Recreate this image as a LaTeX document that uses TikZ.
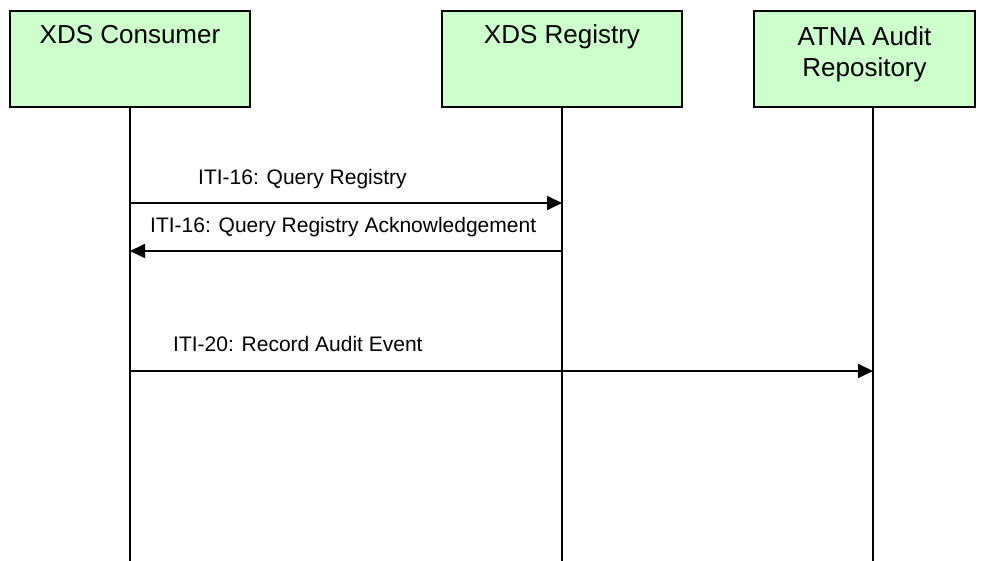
\documentclass[tikz,border=0pt]{standalone}
\usepackage{fontspec}
\setmainfont{Liberation Sans}
\usetikzlibrary{arrows.meta,positioning,calc}

\definecolor{actorgreen}{RGB}{204,255,204}

\begin{document}
\begin{tikzpicture}[x=1pt, y=-1pt,
  actor/.style={draw, line width=2pt, fill=actorgreen, minimum width=240pt, minimum height=96pt, inner sep=0pt},
  actortext/.style={font=\fontsize{26}{31}\selectfont, align=center, inner sep=0pt},
  msg/.style={line width=1.8pt, -{Triangle[length=15pt,width=14pt]}},
  msglabel/.style={font=\fontsize{21}{25}\selectfont, inner sep=0pt, anchor=base west},
  lifeline/.style={line width=1.8pt}]
\useasboundingbox (0,0) rectangle (982,561);

% Teilnehmer
\node[actor, label={[actortext, anchor=base, yshift=-33.5pt]north:XDS Consumer}] (cons) at (130,59) {};
\node[actor, label={[actortext, anchor=base, yshift=-33.5pt]north:XDS Registry}] (reg) at (562,59) {};
\node[actor, minimum width=221pt, label={[actortext, anchor=north, yshift=-16pt]north:{ATNA Audit\\Repository}}] (atna) at (864.5,59) {};
\coordinate (atnaline) at ([xshift=8.5pt]atna.south);

% Lebenslinien
\coordinate (bottom) at (0,561);
\draw[lifeline] (cons.south) -- (cons.south |- bottom);
\draw[lifeline] (reg.south) -- (reg.south |- bottom);
\draw[lifeline] (atnaline) -- (atnaline |- bottom);

% Nachrichten
\coordinate (m1) at (0,203);
\coordinate (m2) at (0,251);
\coordinate (m3) at (0,371);
\draw[msg] (cons.south |- m1) -- (reg.south |- m1);
\draw[msg] (reg.south |- m2) -- (cons.south |- m2);
\draw[msg] (cons.south |- m3) -- (atnaline |- m3);

% Beschriftungen
\node[msglabel] (l1) at (198,185) {ITI-16: Query Registry};
\node[msglabel] (l2) at (150,233) {ITI-16: Query Registry Acknowledgement};
\node[msglabel] (l3) at (173,351) {ITI-20: Record Audit Event};
\end{tikzpicture}
\end{document}
